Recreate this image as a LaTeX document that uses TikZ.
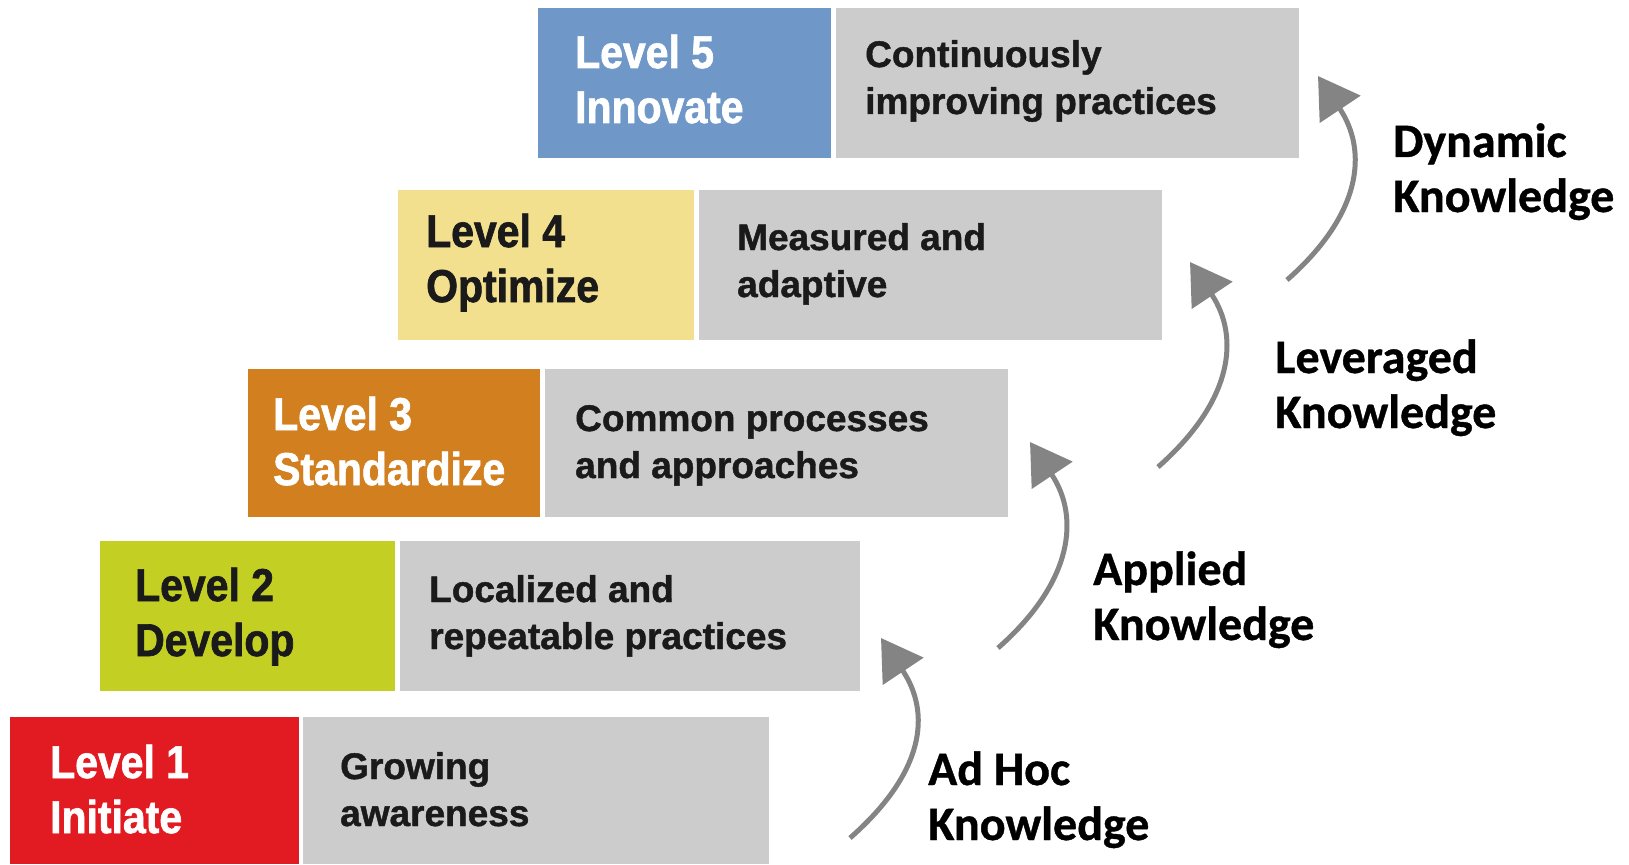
\documentclass[tikz,border=0pt]{standalone}
\usepackage{fontspec}
\setmainfont{Liberation Sans}
\newfontfamily\lvlfont{Liberation Sans}[FakeStretch=0.89, BoldFeatures={FakeBold=1.5}]
\newfontfamily\descfont{Liberation Sans}[BoldFeatures={FakeBold=1.2}]
\newfontfamily\knowfont{Carlito}[BoldFeatures={FakeBold=0.8}]
\usetikzlibrary{arrows.meta,calc}
\definecolor{c5}{HTML}{6F98C8}
\definecolor{c4}{HTML}{F3E08E}
\definecolor{c3}{HTML}{D2801F}
\definecolor{c2}{HTML}{C4CF24}
\definecolor{c1}{HTML}{E21B23}
\definecolor{gbox}{HTML}{CCCCCC}
\definecolor{arrg}{HTML}{848484}
\definecolor{dtext}{HTML}{1A1A1A}
\tikzset{
  box/.style={fill=#1, draw=none, inner sep=0pt, outer sep=0pt, anchor=north west, minimum height=150pt},
  lvltext/.style={anchor=base west, inner sep=0pt, font=\lvlfont\bfseries\fontsize{46}{55}\selectfont},
  desctext/.style={anchor=base west, inner sep=0pt, text=dtext, font=\descfont\bfseries\fontsize{37}{47}\selectfont},
  knowtext/.style={anchor=base west, inner sep=0pt, text=black, font=\knowfont\bfseries\fontsize{48}{55}\selectfont},
  kn/.style={-{Triangle[length=40pt,width=48pt]}, line width=5pt, draw=arrg},
}
\begin{document}
\begin{tikzpicture}[x=1pt,y=-1pt]
\useasboundingbox (0,0) rectangle (1629,864);
% Level 5
\node[box=c5, minimum width=293pt] (l5) at (538,8) {};
\node[box=gbox, minimum width=463pt] (g5) at (836,8) {};
\node[lvltext, text=white] (t5) at (575,68) {\begin{tabular}[t]{@{}l@{}}Level 5\\Innovate\end{tabular}};
\node[desctext] (d5) at (865,67) {\begin{tabular}[t]{@{}l@{}}Continuously\\improving practices\end{tabular}};
% Level 4
\node[box=c4, minimum width=296pt] (l4) at (398,190) {};
\node[box=gbox, minimum width=463pt] (g4) at (699,190) {};
\node[lvltext, text=dtext] (t4) at (426,247) {\begin{tabular}[t]{@{}l@{}}Level 4\\Optimize\end{tabular}};
\node[desctext] (d4) at (737,250) {\begin{tabular}[t]{@{}l@{}}Measured and\\adaptive\end{tabular}};
% Level 3
\node[box=c3, minimum width=292pt, minimum height=148pt] (l3) at (248,369) {};
\node[box=gbox, minimum width=463pt, minimum height=148pt] (g3) at (545,369) {};
\node[lvltext, text=white] (t3) at (273,430) {\begin{tabular}[t]{@{}l@{}}Level 3\\Standardize\end{tabular}};
\node[desctext] (d3) at (575,431) {\begin{tabular}[t]{@{}l@{}}Common processes\\and approaches\end{tabular}};
% Level 2
\node[box=c2, minimum width=295pt] (l2) at (100,541) {};
\node[box=gbox, minimum width=460pt] (g2) at (400,541) {};
\node[lvltext, text=dtext] (t2) at (135,601) {\begin{tabular}[t]{@{}l@{}}Level 2\\Develop\end{tabular}};
\node[desctext] (d2) at (429,602) {\begin{tabular}[t]{@{}l@{}}Localized and\\repeatable practices\end{tabular}};
% Level 1
\node[box=c1, minimum width=289pt, minimum height=147pt] (l1) at (10,717) {};
\node[box=gbox, minimum width=466pt, minimum height=147pt] (g1) at (303,717) {};
\node[lvltext, text=white] (t1) at (50,778) {\begin{tabular}[t]{@{}l@{}}Level 1\\Initiate\end{tabular}};
\node[desctext] (d1) at (340,779) {\begin{tabular}[t]{@{}l@{}}Growing\\awareness\end{tabular}};
% Knowledge labels
\node[knowtext] (k1) at (928,785) {\begin{tabular}[t]{@{}l@{}}Ad Hoc\\Knowledge\end{tabular}};
\node[knowtext] (k2) at (1093,585) {\begin{tabular}[t]{@{}l@{}}Applied\\Knowledge\end{tabular}};
\node[knowtext] (k3) at (1275,373) {\begin{tabular}[t]{@{}l@{}}Leveraged\\Knowledge\end{tabular}};
\node[knowtext] (k4) at (1393,157) {\begin{tabular}[t]{@{}l@{}}Dynamic\\Knowledge\end{tabular}};
% Arrows
\coordinate (a1t) at (850,838); \coordinate (a1h) at (881,638);
\coordinate (a2t) at (998,648); \coordinate (a2h) at (1030,442);
\coordinate (a3t) at (1158,467); \coordinate (a3h) at (1190,262);
\coordinate (a4t) at (1287,280); \coordinate (a4h) at (1318,76);
\foreach \i in {1,2,3,4}{
  \draw[kn] (a\i t) .. controls ($(a\i t)+(75,-66)$) and ($(a\i h)+(50,75)$) .. (a\i h);
}
\end{tikzpicture}
\end{document}
